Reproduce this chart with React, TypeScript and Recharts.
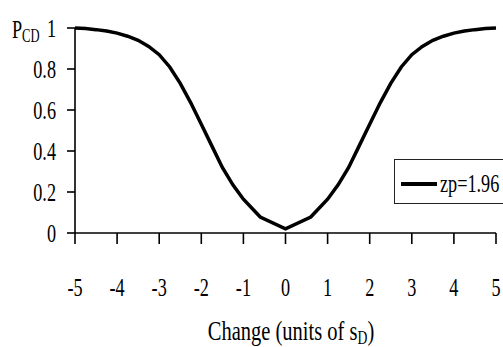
import React from "react";
import { LineChart, Line, XAxis, YAxis, Legend } from "recharts";

// (x in units of s_D, y = P_CD)
const changeValues = [
  -5, -4.75, -4.5, -4.25, -4, -3.75, -3.5, -3.25, -3, -2.75, -2.5, -2.25, -2, -1.75, -1.5, -1.25, -1, -0.6, 0,
  0.6, 1, 1.25, 1.5, 1.75, 2, 2.25, 2.5, 2.75, 3, 3.25, 3.5, 3.75, 4, 4.25, 4.5, 4.75, 5,
];
const pcdValues = [
  1.0, 0.997, 0.992, 0.985, 0.975, 0.96, 0.94, 0.91, 0.87, 0.81, 0.73, 0.635, 0.53, 0.425, 0.32, 0.235, 0.165, 0.078, 0.02,
  0.078, 0.165, 0.235, 0.32, 0.425, 0.53, 0.635, 0.73, 0.81, 0.87, 0.91, 0.94, 0.96, 0.975, 0.985, 0.992, 0.997, 1.0,
];
const xTicks = [-5, -4, -3, -2, -1, 0, 1, 2, 3, 4, 5];
const yTicks = [0, 0.2, 0.4, 0.6, 0.8, 1];
const seriesName = "zp=1.96";

const data = changeValues.map((c, i) => ({ change: c, pcd: pcdValues[i] }));

const FONT = '"Liberation Serif", "Times New Roman", serif';
const SX = 0.7; // the original text is squeezed horizontally

const XTick = ({ x, y, payload }: any) => (
  <g transform={`translate(${x},${y + 52}) scale(${SX},1)`}>
    <text textAnchor="middle" fontFamily={FONT} fontSize={26} fill="#000">
      {payload.value}
    </text>
  </g>
);

const YTick = ({ x, y, payload }: any) => (
  <g transform={`translate(${x},${y}) scale(${SX},1)`}>
    <text textAnchor="end" dy="0.34em" fontFamily={FONT} fontSize={26} fill="#000">
      {payload.value}
    </text>
  </g>
);

const XTitle = () => (
  <g transform="translate(291,340) scale(0.76,1)">
    <text textAnchor="middle" fontFamily={FONT} fontSize={27} fill="#000">
      Change (units of s
      <tspan fontSize={18} dy={4}>D</tspan>
      <tspan dy={-4}>)</tspan>
    </text>
  </g>
);

const YTitle = () => (
  <g transform={`translate(12,38) scale(${SX},1)`}>
    <text fontFamily={FONT} fontSize={26} fill="#000">
      P<tspan fontSize={18} dy={4}>CD</tspan>
    </text>
  </g>
);

const LegendBox = () => (
  <div
    style={{
      boxSizing: "border-box",
      width: 109,
      height: 45,
      border: "1px solid #222",
      borderRight: "none",
      background: "#fff",
      position: "relative",
    }}
  >
    <svg width={109} height={43} style={{ position: "absolute", left: 0, top: 0 }}>
      <line x1={6} x2={42} y1={24} y2={24} stroke="#000" strokeWidth={4} />
      <g transform={`translate(45,32) scale(${SX},1)`}>
        <text fontFamily={FONT} fontSize={26} fill="#000">
          {seriesName}
        </text>
      </g>
    </svg>
  </div>
);

export default function App() {
  return (
    <div style={{ position: "absolute", left: 0, top: 0, width: 503, height: 347, overflow: "hidden", background: "#fff" }}>
      <LineChart width={503} height={347} data={data} margin={{ top: 28, right: 7, bottom: 0, left: 0 }}>
        <XAxis
          dataKey="change"
          type="number"
          domain={[-5, 5]}
          ticks={xTicks}
          height={114}
          tickSize={11}
          tickMargin={0}
          axisLine={{ stroke: "#000", strokeWidth: 1.6 }}
          tickLine={{ stroke: "#000", strokeWidth: 1.6 }}
          tick={<XTick />}
          label={{ content: () => <XTitle /> }}
        />
        <YAxis
          type="number"
          domain={[0, 1]}
          ticks={yTicks}
          width={75}
          tickSize={8}
          tickMargin={11}
          axisLine={{ stroke: "#000", strokeWidth: 1.6 }}
          tickLine={{ stroke: "#000", strokeWidth: 1.6 }}
          tick={<YTick />}
          label={{ content: () => <YTitle /> }}
        />
        <Legend
          layout="horizontal"
          align="center"
          verticalAlign="middle"
          wrapperStyle={{ left: 394, top: 159, width: 109, height: 45 }}
          content={() => <LegendBox />}
        />
        <Line
          type="linear"
          dataKey="pcd"
          name={seriesName}
          stroke="#000"
          strokeWidth={3.5}
          dot={false}
          isAnimationActive={false}
        />
      </LineChart>
    </div>
  );
}
